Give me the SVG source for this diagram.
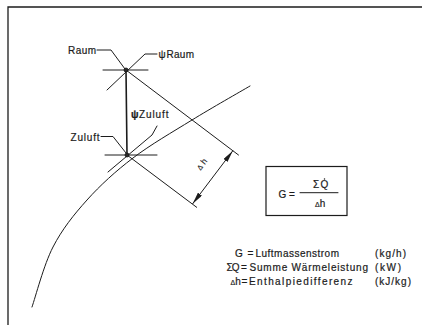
<svg xmlns="http://www.w3.org/2000/svg" width="422" height="325" viewBox="0 0 422 325">
<style>
.ln{stroke:#1c1c1c;stroke-width:1;fill:none;stroke-linecap:round}
.fr{stroke:#1c1c1c;stroke-width:1.3;fill:none}
.t{font-family:"Liberation Sans",Arial,sans-serif;font-size:10px;fill:#1c1c1c;stroke:#1c1c1c;stroke-width:0.2}
.s{font-family:"Liberation Sans",Arial,sans-serif;font-size:8.5px;fill:#1c1c1c;stroke:#1c1c1c;stroke-width:0.15}
.dot{fill:#2a2a2a;stroke:#111;stroke-width:0.8}
</style>
<defs>
<marker id="ah" markerUnits="userSpaceOnUse" viewBox="0 0 12 5" refX="12" refY="2.5" markerWidth="12" markerHeight="5" orient="auto-start-reverse">
<path d="M0,0 L12,2.5 L0,5 z" fill="#1c1c1c"/>
</marker>
</defs>
<rect width="422" height="325" fill="#ffffff"/>
<g id="frame">
<path class="fr" d="M8,325 V7 H422"/>
</g>
<g id="connectors">
<path class="ln" d="M32,307 C35.5,297 43.8,264.8 53,247 C62.2,229.2 73.7,214.8 87,200 C100.3,185.2 115.5,171.3 133,158 C150.5,144.7 172.5,132 192,120 C211.5,108 240.3,91.7 250,86"/>
<line class="ln" x1="126" y1="70" x2="127" y2="155" style="stroke-width:1.6"/>
<line class="ln" x1="103" y1="70" x2="148" y2="70"/>
<path class="ln" d="M107,90 L145,54 H157"/>
<path class="ln" d="M97,50 H111 L125,69"/>
<line class="ln" x1="126" y1="70" x2="238.5" y2="155"/>
<line class="ln" x1="105" y1="155" x2="157" y2="155"/>
<path class="ln" d="M108,172 L152,135 L157,126"/>
<path class="ln" d="M101,136.5 H113 L126,153"/>
<line class="ln" x1="127" y1="155" x2="196.7" y2="207.3"/>
<line class="ln" x1="192.7" y1="203.7" x2="232.7" y2="150.9" marker-start="url(#ah)" marker-end="url(#ah)"/>
</g>
<g id="raum">
<circle class="dot" cx="126" cy="70" r="2"/>
<text class="t" x="68" y="53.5" textLength="28">Raum</text>
<text class="t" x="158.5" y="57.5">ψ</text>
<text class="t" x="166.5" y="57.5" textLength="27.5">Raum</text>
</g>
<g id="zuluft">
<circle class="dot" cx="127" cy="155" r="2"/>
<text class="t" x="70.5" y="140.5" textLength="29">Zuluft</text>
<text class="t" x="131" y="118" style="font-weight:bold">ψ</text>
<text class="t" x="139" y="118" textLength="29.5">Zuluft</text>
</g>
<g id="dh-label">
<text class="s" x="0" y="0" text-anchor="middle" transform="translate(204,166) rotate(-53)"><tspan style="font-size:7px">Δ</tspan> h</text>
</g>
<g id="formula">
<rect x="266" y="166.5" width="81" height="49" fill="none" stroke="#1c1c1c" stroke-width="1.2"/>
<text class="t" x="278.5" y="198">G =</text>
<line class="ln" x1="300" y1="192.7" x2="338" y2="192.7"/>
<text class="t" x="313" y="187.5">Σ</text>
<text class="t" x="320.5" y="187.5">Q</text>
<circle cx="324.5" cy="179" r="0.75" fill="#1c1c1c"/>
<text class="t" x="315" y="207"><tspan style="font-size:7px">Δ</tspan>h</text>
</g>
<g id="legend">
<text class="t" x="235" y="257">G</text>
<text class="t" x="247.5" y="257">=</text>
<text class="t" x="255.5" y="257" textLength="83.5">Luftmassenstrom</text>
<text class="t" x="375" y="257" textLength="31">(kg/h)</text>
<text class="t" x="226.5" y="271" textLength="13">ΣQ</text>
<text class="t" x="241" y="271">=</text>
<text class="t" x="249.5" y="271" textLength="118.5">Summe Wärmeleistung</text>
<text class="t" x="375" y="271" textLength="26">(kW)</text>
<text class="t" x="230.5" y="285"><tspan style="font-size:7px">Δ</tspan>h</text>
<text class="t" x="241.5" y="285">=</text>
<text class="t" x="249" y="285" textLength="103.5">Enthalpiedifferenz</text>
<text class="t" x="375" y="285" textLength="36">(kJ/kg)</text>
</g>
</svg>
